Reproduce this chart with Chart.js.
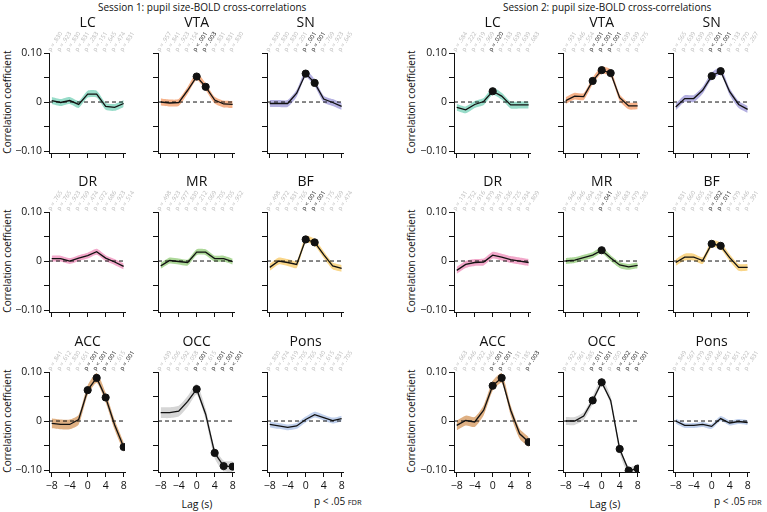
<!DOCTYPE html>
<html>
<head>
<meta charset="utf-8">
<script src="https://cdn.jsdelivr.net/npm/chart.js@4.4.1/dist/chart.umd.min.js"></script>
<style>
  body { margin: 0; background: #fff; width: 767px; height: 512px; position: relative; overflow: hidden;
         font-family: "Open Sans", sans-serif; color: #111; }
  canvas { position: absolute; }
  .txt { position: absolute; white-space: nowrap; line-height: 1; }
  .ylab { transform: translate(-50%, -50%) rotate(-90deg); font-size: 10px; }
</style>
</head>
<body>
<div class="txt" style="left:98px;top:2px;font-size:10px">Session 1: pupil size-BOLD cross-correlations</div>
<div class="txt" style="left:503px;top:2px;font-size:10px">Session 2: pupil size-BOLD cross-correlations</div>
<div class="txt" style="left:197px;top:499px;font-size:10.5px;transform:translateX(-50%)">Lag (s)</div>
<div class="txt" style="left:605px;top:499px;font-size:10.5px;transform:translateX(-50%)">Lag (s)</div>
<div class="txt" style="left:314px;top:496px;font-size:10px">p &lt; .05 <span style="font-size:7.5px">FDR</span></div>
<div class="txt" style="left:714px;top:496px;font-size:10px">p &lt; .05 <span style="font-size:7.5px">FDR</span></div>
<div id="ylabels"></div>

<script>
const lags = [-8, -6, -4, -2, 0, 2, 4, 6, 8];
const regions = ["LC", "VTA", "SN", "DR", "MR", "BF", "ACC", "OCC", "Pons"];
const xTicks = [-8, -4, 0, 4, 8];
const yTicks = [-0.1, -0.05, 0, 0.05, 0.1];

// session 1 correlations (one value per lag)
const s1LC   = [0.003, -0.001, 0.003, -0.005, 0.016, 0.016, -0.009, -0.011, -0.003];
const s1VTA  = [0.000, -0.002, -0.001, 0.024, 0.052, 0.031, 0.004, -0.004, -0.005];
const s1SN   = [-0.003, -0.003, -0.003, 0.018, 0.058, 0.039, 0.006, -0.001, -0.009];
const s1DR   = [0.005, 0.005, 0.000, 0.006, 0.011, 0.019, 0.006, -0.002, -0.011];
const s1MR   = [-0.010, 0.001, -0.001, -0.003, 0.018, 0.018, 0.005, 0.005, -0.001];
const s1BF   = [-0.013, 0.000, -0.003, -0.007, 0.044, 0.038, 0.013, -0.010, -0.015];
const s1ACC  = [-0.005, -0.007, -0.007, 0.003, 0.063, 0.088, 0.048, -0.008, -0.053];
const s1OCC  = [0.017, 0.017, 0.020, 0.040, 0.065, 0.014, -0.065, -0.092, -0.093];
const s1Pons = [-0.007, -0.010, -0.013, -0.010, 0.003, 0.013, 0.007, 0.001, 0.005];

// session 2 correlations
const s2LC   = [-0.011, -0.016, -0.005, 0.001, 0.022, 0.012, -0.006, -0.006, -0.006];
const s2VTA  = [0.003, 0.012, 0.011, 0.043, 0.065, 0.059, 0.009, -0.008, -0.008];
const s2SN   = [-0.010, 0.007, 0.007, 0.024, 0.053, 0.063, 0.021, -0.005, -0.015];
const s2DR   = [-0.019, -0.007, -0.003, -0.002, 0.012, 0.008, 0.003, 0.000, -0.003];
const s2MR   = [0.000, 0.002, 0.007, 0.012, 0.022, 0.006, -0.008, -0.012, -0.009];
const s2BF   = [-0.003, 0.008, 0.008, 0.001, 0.035, 0.031, 0.007, -0.013, -0.013];
const s2ACC  = [-0.009, 0.001, -0.002, 0.022, 0.072, 0.088, 0.022, -0.026, -0.043];
const s2OCC  = [0.000, 0.000, 0.010, 0.042, 0.079, 0.042, -0.057, -0.101, -0.097];
const s2Pons = [0.000, -0.009, -0.009, -0.007, -0.011, 0.005, -0.004, -0.001, -0.003];

// p values printed above each lag
const s1LCp   = [".830", ".923", ".830", ".831", ".283", ".151", ".645", ".474", ".831"];
const s1VTAp  = [".957", ".841", ".923", ".154", "<.001", ".003", ".831", ".831", ".830"];
const s1SNp   = [".830", ".830", ".830", ".201", "<.001", ".001", ".769", ".923", ".645"];
const s1DRp   = [".765", ".765", ".923", ".769", ".474", ".072", ".686", ".923", ".514"];
const s1MRp   = [".498", ".923", ".977", ".830", ".212", ".069", ".705", ".705", ".952"];
const s1BFp   = [".498", ".972", ".831", ".765", "<.001", ".001", ".175", ".769", ".474"];
const s1ACCp  = [".841", ".612", ".830", ".651", ".001", "<.001", ".001", ".615", ".001"];
const s1OCCp  = [".439", ".506", ".592", ".058", ".001", ".615", "<.001", "<.001", "<.001"];
const s1Ponsp = [".830", ".474", ".419", ".705", ".765", ".140", ".615", ".831", ".705"];

const s2LCp   = [".584", ".222", ".919", ".969", ".020", ".183", ".639", ".639", ".683"];
const s2VTAp  = [".931", ".446", ".554", ".001", "<.001", "<.001", ".639", ".639", ".675"];
const s2SNp   = [".565", ".639", ".639", ".079", "<.001", "<.001", ".133", ".970", ".267"];
const s2DRp   = [".131", ".752", ".916", ".879", ".391", ".536", ".725", ".934", ".809"];
const s2MRp   = [".946", ".946", ".694", ".534", ".041", ".446", ".683", ".479", ".585"];
const s2BFp   = [".831", ".660", ".605", ".934", ".002", ".011", ".479", ".446", ".391"];
const s2ACCp  = [".663", ".946", ".922", ".446", "<.001", "<.001", ".131", ".185", ".003"];
const s2OCCp  = [".922", ".961", ".585", ".011", "<.001", ".050", ".002", "<.001", "<.001"];
const s2Ponsp = [".849", ".567", ".479", ".639", ".446", ".851", ".851", ".922", ".831"];

// half-width of the shaded error band, per region
const s1Band = [0.007, 0.007, 0.007, 0.006, 0.006, 0.007, 0.010, 0.011, 0.006];
const s2Band = [0.007, 0.007, 0.007, 0.007, 0.006, 0.007, 0.010, 0.008, 0.005];

const session1 = [s1LC, s1VTA, s1SN, s1DR, s1MR, s1BF, s1ACC, s1OCC, s1Pons];
const session2 = [s2LC, s2VTA, s2SN, s2DR, s2MR, s2BF, s2ACC, s2OCC, s2Pons];
const session1p = [s1LCp, s1VTAp, s1SNp, s1DRp, s1MRp, s1BFp, s1ACCp, s1OCCp, s1Ponsp];
const session2p = [s2LCp, s2VTAp, s2SNp, s2DRp, s2MRp, s2BFp, s2ACCp, s2OCCp, s2Ponsp];

const colors = ["#98dcc9", "#f6b28a", "#b4b0e0", "#f2a8ca", "#add899", "#f9d68a", "#dfb083", "#d6d6d6", "#c0d0ec"];

// layout: plot-area left edge per column, top per row
const colLeft = [[49, 158, 267], [454, 563, 673]];
const rowTop = [53, 212, 372];
const AXW = 40, PADT = 45, PADR = 22, XH = 24, PW = 76, PH = 100;

const isSig = s => s.startsWith("<") || parseFloat(s) < 0.05;
const pText = s => s.startsWith("<") ? "p < " + s.slice(1) : "p = " + s;
const minus = s => String(s).replace("-", "\u2212");

const deco = {
  id: "deco",
  afterDraw(chart) {
    const o = chart.options.plugins.deco;
    const { ctx, chartArea, scales } = chart;
    ctx.save();
    ctx.fillStyle = "#111";
    ctx.font = "14px 'Open Sans'";
    ctx.textAlign = "center";
    ctx.textBaseline = "middle";
    ctx.fillText(o.title, scales.x.getPixelForValue(0), chartArea.top - 30);
    ctx.font = "6px 'Open Sans'";
    ctx.textAlign = "left";
    ctx.textBaseline = "alphabetic";
    o.p.forEach((s, i) => {
      ctx.save();
      ctx.translate(scales.x.getPixelForValue(lags[i]) - 1, chartArea.top - 1);
      ctx.rotate(-57 * Math.PI / 180);
      ctx.fillStyle = isSig(s) ? "#111" : "#b9b9b9";
      ctx.fillText(pText(s), 0, 0);
      ctx.restore();
    });
    ctx.restore();
  }
};

function panel(sess, idx) {
  const vals = (sess === 0 ? session1 : session2)[idx];
  const pv = (sess === 0 ? session1p : session2p)[idx];
  const band = (sess === 0 ? s1Band : s2Band)[idx];
  const row = Math.floor(idx / 3), col = idx % 3;
  const left = colLeft[sess][col] - AXW, top = rowTop[row] - PADT;

  const cv = document.createElement("canvas");
  cv.width = AXW + PW + PADR;
  cv.height = PADT + PH + XH;
  cv.style.left = left + "px";
  cv.style.top = top + "px";
  document.body.appendChild(cv);

  const line = vals.map((v, i) => ({ x: lags[i], y: v }));
  const upper = vals.map((v, i) => ({ x: lags[i], y: v + band }));
  const lower = vals.map((v, i) => ({ x: lags[i], y: v - band }));
  const dots = line.filter((d, i) => isSig(pv[i]));

  new Chart(cv, {
    type: "line",
    data: {
      datasets: [
        { data: upper, borderWidth: 0, pointRadius: 0, fill: "+1", backgroundColor: colors[idx], tension: 0.2, order: 4 },
        { data: lower, borderWidth: 0, pointRadius: 0, fill: false, tension: 0.2, order: 4 },
        { data: [{ x: -8.6, y: 0 }, { x: 8.2, y: 0 }], borderColor: "#111", borderWidth: 1, borderDash: [4, 3], pointRadius: 0, order: 3 },
        { data: line, borderColor: "#111", borderWidth: 1.3, pointRadius: 0, order: 2 },
        { data: dots, showLine: false, pointRadius: 3.6, pointBackgroundColor: "#111", pointBorderColor: "#111", order: 1 }
      ]
    },
    options: {
      responsive: false,
      animation: false,
      events: [],
      layout: { padding: { top: PADT, right: PADR, left: 0, bottom: 0 } },
      plugins: {
        legend: { display: false },
        tooltip: { enabled: false },
        deco: { title: regions[idx], p: pv }
      },
      scales: {
        x: {
          type: "linear", min: -8.6, max: 8.3,
          afterBuildTicks: s => { s.ticks = xTicks.map(v => ({ value: v })); },
          afterFit: s => { s.height = XH; },
          border: { display: true, color: "#111", width: 1 },
          grid: { drawOnChartArea: false, color: "#111", tickLength: 5 },
          ticks: {
            display: row === 2, color: "#111", padding: 3, maxRotation: 0,
            font: { family: "Open Sans", size: 10.5 },
            callback: v => minus(v)
          }
        },
        y: {
          min: -0.104, max: 0.1,
          afterBuildTicks: s => { s.ticks = yTicks.map(v => ({ value: v })); },
          afterFit: s => { s.width = AXW; },
          border: { display: true, color: "#111", width: 1 },
          grid: { drawOnChartArea: false, color: "#111", tickLength: 5 },
          ticks: {
            display: col === 0, color: "#111", padding: 2,
            font: { family: "Open Sans", size: 10.5 },
            callback: v => v === 0 ? "0" : Math.abs(v) === 0.1 ? minus(v.toFixed(2)) : ""
          }
        }
      }
    },
    plugins: [deco]
  });
}

for (let s = 0; s < 2; s++) {
  for (let i = 0; i < 9; i++) panel(s, i);
}

// y axis titles
const ylabX = [7, 411];
const yl = document.getElementById("ylabels");
ylabX.forEach(x => {
  rowTop.forEach(t => {
    const d = document.createElement("div");
    d.className = "txt ylab";
    d.style.left = x + "px";
    d.style.top = (t + 49) + "px";
    d.textContent = "Correlation coefficient";
    yl.appendChild(d);
  });
});
</script>
</body>
</html>
